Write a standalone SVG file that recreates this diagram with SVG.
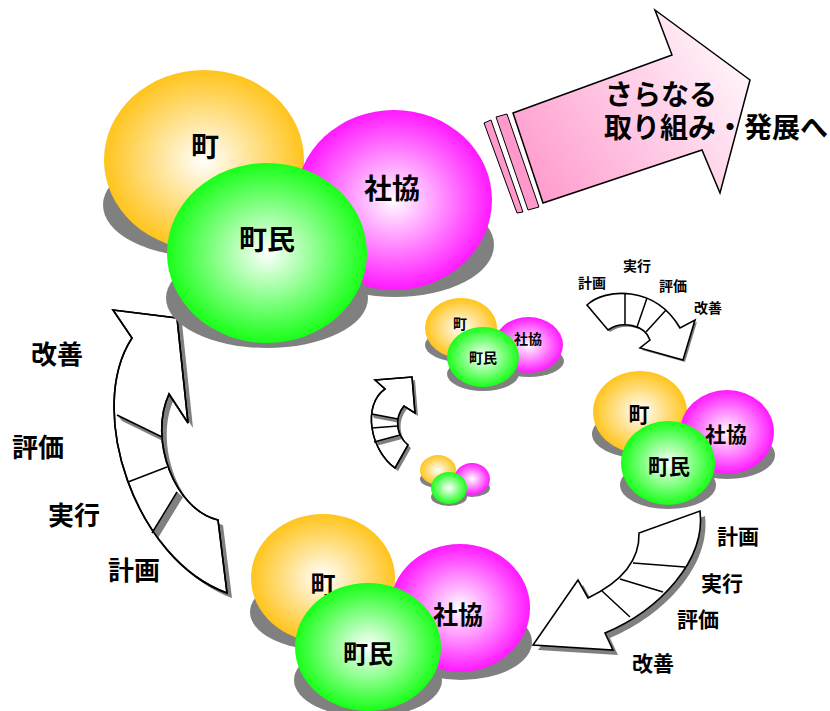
<svg xmlns="http://www.w3.org/2000/svg" width="830" height="711" viewBox="0 0 830 711">
<style>
text{font-family:"Noto Sans CJK JP","Noto Sans",sans-serif;font-weight:bold;fill:#000}
.c{text-anchor:middle;dominant-baseline:central}
.sh{fill:#808080}
.ar{fill:#fff;stroke:#000;stroke-width:1.6;stroke-linejoin:miter}
.ln{stroke:#000;stroke-width:1.5;fill:none}
.o{fill:url(#gO)}.g{fill:url(#gG)}.m{fill:url(#gM)}
</style>
<defs>
<radialGradient id="gO"><stop offset="0" stop-color="#fff"/><stop offset="1" stop-color="#ffc41c"/></radialGradient>
<radialGradient id="gG"><stop offset="0" stop-color="#fff"/><stop offset="1" stop-color="#18ff18"/></radialGradient>
<radialGradient id="gM"><stop offset="0" stop-color="#fff"/><stop offset="1" stop-color="#ff18ff"/></radialGradient>
<linearGradient id="gP" gradientUnits="userSpaceOnUse" x1="530" y1="200" x2="740" y2="60"><stop offset="0" stop-color="#ff99cc"/><stop offset="1" stop-color="#fff4fa"/></linearGradient>
<path id="leftA" d="M113,310 L177,318 L188,423 L169,394 C148,440 175,510 218,520 L227,593 C135,560 85,410 132,338 Z"/>
<path id="brA" d="M700,511 C706,560 660,610 605,633 L613,650 L533,645 L578,580 L588,598 C615,585 640,565 639,533 Z"/>
<path id="s1A" d="M587,305 C605,288 655,285 680,328 L695,320 L683,360 L640,348 L650,340 C645,325 622,320 608,330 Z"/>
<path id="s2A" d="M375,380 L412,377 L415,413 L404,406 C394,418 396,435 408,445 L395,468 C370,450 362,405 385,389 Z"/>
<clipPath id="cL"><use href="#leftA"/></clipPath>
<clipPath id="cS2"><use href="#s2A"/></clipPath>
</defs>

<g id="connectors">
<g id="arrow-next">
<polygon points="543,203 513,113 672,55 655,10 750,80 720,193 702,150" fill="url(#gP)" stroke="#000" stroke-width="1.5"/>
<polygon points="484,123 491,120 523,212 517,213" fill="#ff99cc" stroke="#000" stroke-width="1"/>
<polygon points="496,117 507,114 539,207 528,210" fill="#ff99cc" stroke="#000" stroke-width="1"/>
</g>
<g id="arrow-left">
<use href="#leftA" class="sh" transform="translate(5,5)"/>
<use href="#leftA" class="ar"/>
<g clip-path="url(#cL)">
<polygon class="sh" points="117,415 162,437 167,443 122,421"/>
<polygon class="sh" points="152,533 177,492 183,497 158,538"/>
</g>
<path class="ln" d="M117,415 L162,437 M128,482 L167,467 M152,533 L177,492"/>
<use href="#leftA" fill="none" stroke="#000" stroke-width="1.6"/>
</g>
<g id="arrow-bottom-right">
<use href="#brA" class="sh" transform="translate(5,5)"/>
<use href="#brA" class="ar"/>
<path class="ln" d="M633,563 L685,567 M620,579 L663,592 M602,591 L630,617"/>
</g>
<g id="arrow-small-1">
<use href="#s1A" class="sh" transform="translate(2,2)"/>
<use href="#s1A" class="ar" stroke-width="1.2"/>
<path class="ln" stroke-width="1.1" d="M625,293 L625,325 M647,298 L637,327 M666,310 L646,332"/>
</g>
<g id="arrow-small-2">
<use href="#s2A" class="sh" transform="translate(3,3)"/>
<use href="#s2A" class="ar" stroke-width="1.3"/>
<g clip-path="url(#cS2)">
<polygon class="sh" points="372,414 398,419 400,423 374,418"/>
<polygon class="sh" points="374,442 400,435 402,439 376,446"/>
</g>
<path class="ln" stroke-width="1.2" d="M372,414 L398,419 M372,428 L398,426 M374,442 L400,435"/>
<use href="#s2A" fill="none" stroke="#000" stroke-width="1.3"/>
</g>
</g>

<g id="arrow-next-label">
<text x="605" y="105" font-size="28">さらなる</text>
<text x="604" y="138" font-size="28">取り組み・発展へ</text>
</g>

<g id="cluster-top">
<g id="top-machi"><ellipse class="sh" cx="204" cy="205" rx="101" ry="52"/><ellipse class="o" cx="204" cy="160" rx="100" ry="90"/><text class="c" x="205" y="145" font-size="28">町</text></g>
<g id="top-shakyo"><ellipse class="sh" cx="395" cy="245" rx="99" ry="52"/><ellipse class="m" cx="394" cy="200" rx="98" ry="90"/><text class="c" x="392" y="187" font-size="28">社協</text></g>
<g id="top-chomin"><ellipse class="sh" cx="267" cy="298" rx="101" ry="50"/><ellipse class="g" cx="267" cy="253" rx="100" ry="90"/><text class="c" x="267" y="238" font-size="28">町民</text></g>
</g>

<g id="cluster-small">
<g id="small-machi"><ellipse class="sh" cx="461" cy="345" rx="36" ry="17"/><ellipse class="o" cx="461" cy="328" rx="36" ry="30"/><text class="c" x="460" y="323" font-size="14">町</text></g>
<g id="small-shakyo"><ellipse class="sh" cx="529" cy="361" rx="35" ry="16"/><ellipse class="m" cx="528.5" cy="345" rx="34.5" ry="28"/><text class="c" x="528" y="338" font-size="14">社協</text></g>
<g id="small-chomin"><ellipse class="sh" cx="483" cy="374" rx="36" ry="17"/><ellipse class="g" cx="483" cy="357" rx="36" ry="30"/><text class="c" x="483" y="357" font-size="14">町民</text></g>
</g>

<g id="cluster-tiny">
<g id="tiny-machi"><ellipse class="sh" cx="438" cy="479" rx="18" ry="9"/><ellipse class="o" cx="438" cy="470" rx="18" ry="15"/></g>
<g id="tiny-shakyo"><ellipse class="sh" cx="472" cy="488" rx="18" ry="9"/><ellipse class="m" cx="472" cy="479" rx="18" ry="16"/></g>
<g id="tiny-chomin"><ellipse class="sh" cx="449" cy="497" rx="18" ry="9"/><ellipse class="g" cx="449" cy="488" rx="18" ry="16"/></g>
</g>

<g id="cluster-mid">
<g id="mid-machi"><ellipse class="sh" cx="640" cy="434" rx="48" ry="24"/><ellipse class="o" cx="640" cy="412" rx="47" ry="41"/><text class="c" x="639" y="413" font-size="21">町</text></g>
<g id="mid-shakyo"><ellipse class="sh" cx="727" cy="455" rx="48" ry="24"/><ellipse class="m" cx="727" cy="432" rx="47" ry="42"/><text class="c" x="726" y="433" font-size="21">社協</text></g>
<g id="mid-chomin"><ellipse class="sh" cx="668" cy="485" rx="48" ry="24"/><ellipse class="g" cx="668" cy="463" rx="47" ry="42"/><text class="c" x="669" y="465" font-size="21">町民</text></g>
</g>

<g id="cluster-bottom">
<g id="bottom-machi"><ellipse class="sh" cx="323" cy="612" rx="73" ry="38"/><ellipse class="o" cx="323" cy="578" rx="72" ry="64"/><text class="c" x="323" y="583" font-size="25">町</text></g>
<g id="bottom-shakyo"><ellipse class="sh" cx="461" cy="642" rx="71" ry="38"/><ellipse class="m" cx="460" cy="608" rx="70" ry="64"/><text class="c" x="458" y="613" font-size="25">社協</text></g>
<g id="bottom-chomin"><ellipse class="sh" cx="368" cy="680" rx="74" ry="37"/><ellipse class="g" cx="368" cy="647" rx="73" ry="64"/><text class="c" x="368" y="652" font-size="25">町民</text></g>
</g>

<g id="labels-left">
<text class="c" x="57" y="352" font-size="26">改善</text>
<text class="c" x="38" y="445" font-size="26">評価</text>
<text class="c" x="74" y="513" font-size="26">実行</text>
<text class="c" x="134" y="568" font-size="26">計画</text>
</g>
<g id="labels-bottom-right">
<text class="c" x="738" y="535" font-size="21">計画</text>
<text class="c" x="722" y="582" font-size="21">実行</text>
<text class="c" x="698" y="618" font-size="21">評価</text>
<text class="c" x="653" y="662" font-size="21">改善</text>
</g>
<g id="labels-small">
<text class="c" x="592" y="282" font-size="14">計画</text>
<text class="c" x="637" y="265" font-size="14">実行</text>
<text class="c" x="673" y="285" font-size="14">評価</text>
<text class="c" x="708" y="307" font-size="14">改善</text>
</g>
</svg>
